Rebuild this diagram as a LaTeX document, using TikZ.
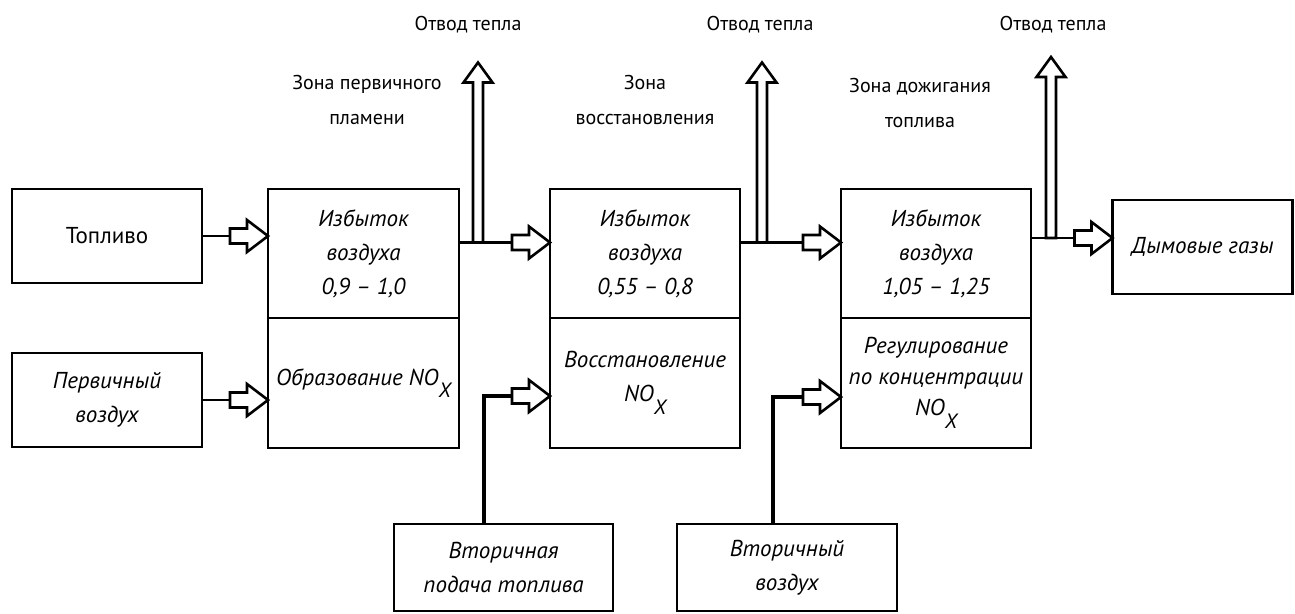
\documentclass[tikz,border=0pt]{standalone}
\usepackage{fontspec}
\setmainfont{PT Sans}
\usetikzlibrary{calc,positioning}
\newcommand{\boxfont}{\fontsize{23}{34}\selectfont}
\newcommand{\labfont}{\fontsize{20}{35}\selectfont}
\newcommand{\nox}{NO\raisebox{-0.55em}{\scalebox{0.9}{X}}}
% hollow arrow ending at #1
\newcommand{\fatarrow}[1]{\draw[fat] (#1) -- ++(-21,-16) -- ++(0,8.5) -- ++(-17,0) -- ++(0,15) -- ++(17,0) -- ++(0,8.5) -- cycle;}
% heat removal arrow from #1 up to #2
\newcommand{\heatarrow}[2]{\draw[fat] (#2) -- ++(-14.5,20) -- ++(9.5,0) -- ($(#1)+(-5,0)$) -- ++(10,0) -- ($(#2)+(5,20)$) -- ++(9.5,0) -- cycle;}

\begin{document}
\begin{tikzpicture}[x=1pt, y=-1pt,
  blk/.style={draw, line width=2.8pt, inner sep=0pt, outer sep=0pt, align=center, font=\boxfont\itshape},
  lab/.style={align=center, font=\labfont},
  fat/.style={draw, line width=2.6pt, fill=white, line join=miter},
  lnk/.style={line width=2.8pt},
  feed/.style={line width=3.2pt}]
  \useasboundingbox (0,0) rectangle (1295,613);
  % inputs
  \node[blk, font=\boxfont, minimum width=190pt, minimum height=94pt] (fuel) at (107,236) {Топливо};
  \node[blk, minimum width=190pt, minimum height=94pt] (primair) at (107,400) {Первичный\\воздух};
  % zones
  \node[blk, minimum width=191pt, minimum height=129pt] (z1top) at (363.5,253.5) {Избыток\\воздуха\\0,9 -- 1,0};
  \node[blk, minimum width=191pt, minimum height=130pt, below=0pt of z1top] (z1bot) {Образование \nox};
  \node[blk, minimum width=190pt, minimum height=129pt] (z2top) at (645,253.5) {Избыток\\воздуха\\0,55 -- 0,8};
  \node[blk, minimum width=190pt, minimum height=130pt, below=0pt of z2top] (z2bot) {Восстановление\\\nox};
  \node[blk, minimum width=190pt, minimum height=129pt] (z3top) at (936,253.5) {Избыток\\воздуха\\1,05 -- 1,25};
  \node[blk, minimum width=190pt, minimum height=130pt, below=0pt of z3top, font=\fontsize{23}{31}\selectfont\itshape] (z3bot) {Регулирование\\по концентрации\\\nox};
  \node[blk, minimum width=180pt, minimum height=94pt] (flue) at (1202.5,247) {Дымовые газы};
  % secondary feeds
  \node[blk, minimum width=219pt, minimum height=87pt] (secfuel) at (503.5,567.5) {Вторичная\\подача топлива};
  \node[blk, minimum width=220pt, minimum height=87pt] (secair) at (787,567.5) {Вторичный\\воздух};
  % labels
  \node[lab] (heat1) at (468,25) {Отвод тепла};
  \node[lab] (heat2) at (760,25) {Отвод тепла};
  \node[lab] (heat3) at (1053,25) {Отвод тепла};
  \node[lab] (zone1) at (367,100) {Зона первичного\\пламени};
  \node[lab] (zone2) at (645,100) {Зона\\восстановления};
  \node[lab] (zone3) at (920,103) {Зона дожигания\\топлива};
  % heat removal
  \coordinate (o1) at ($(z1top.east)+(0,-11)$);
  \coordinate (o2) at ($(z2top.east)+(0,-11)$);
  \coordinate (o3) at ($(z3top.east)+(0,-15.5)$);
  \coordinate (h1) at ($(o1)+(19,0)$);
  \coordinate (h2) at ($(o2)+(22,0)$);
  \coordinate (h3) at ($(o3)+(20,0)$);
  \heatarrow{h1}{$(h1)+(0,-180)$}
  \heatarrow{h2}{$(h2)+(0,-180)$}
  \heatarrow{h3}{$(h3)+(0,-181)$}
  % connectors
  \coordinate (t0) at (fuel.east -| z1top.west);
  \draw[lnk] (fuel.east) -- ($(t0)+(-38,0)$);
  \fatarrow{t0}
  \coordinate (t1) at (primair.east -| z1bot.west);
  \draw[lnk] (primair.east) -- ($(t1)+(-38,0)$);
  \fatarrow{t1}
  \coordinate (t2) at (o1 -| z2top.west);
  \draw[lnk] (o1) -- ($(t2)+(-38,0)$);
  \fatarrow{t2}
  \coordinate (t4) at (o2 -| z3top.west);
  \draw[lnk] (o2) -- ($(t4)+(-38,0)$);
  \fatarrow{t4}
  \coordinate (t6) at (o3 -| flue.west);
  \draw[lnk] (o3) -- ($(t6)+(-38,0)$);
  \fatarrow{t6}
  % secondary supply
  \coordinate (t3) at ($(z2bot.west)+(0,13)$);
  \draw[feed] ($(secfuel.north west)+(90,0)$) |- ($(t3)+(-38,0)$);
  \fatarrow{t3}
  \coordinate (t5) at ($(z3bot.west)+(0,14)$);
  \draw[feed] ($(secair.north west)+(96,0)$) |- ($(t5)+(-38,0)$);
  \fatarrow{t5}
\end{tikzpicture}
\end{document}
